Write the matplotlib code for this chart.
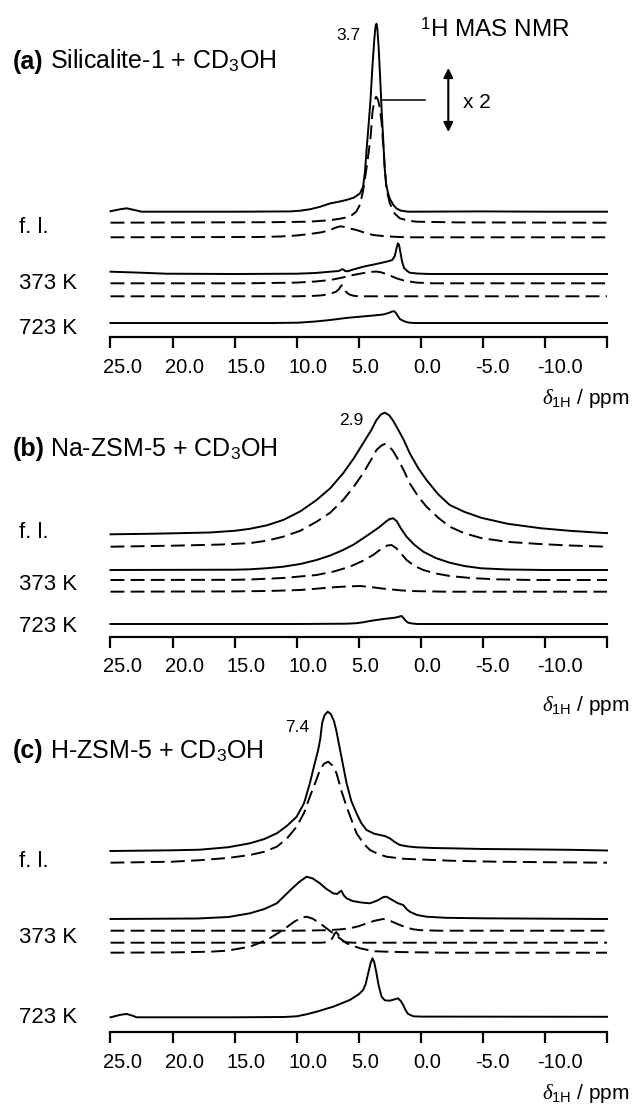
import numpy as np
import matplotlib.pyplot as plt
from matplotlib.transforms import ScaledTranslation

plt.rcParams['font.family'] = ['Liberation Sans', 'DejaVu Sans']
plt.rcParams['mathtext.fontset'] = 'custom'
plt.rcParams['mathtext.rm'] = 'Liberation Sans'
plt.rcParams['mathtext.sf'] = 'Liberation Sans'
plt.rcParams['mathtext.it'] = 'Liberation Serif:italic'
plt.rcParams['mathtext.bf'] = 'Liberation Sans:bold'
plt.rcParams['lines.scale_dashes'] = False

# ---- data: chemical shift (ppm) and intensity (a.u.) ----
# (a) Silicalite-1
a1_ppm = [25.0, 24.2, 23.7, 23.0, 22.5, 15.0, 10.5, 9.7, 8.9, 8.1, 7.3, 6.6, 6.0, 5.4, 4.9, 4.65, 4.5, 4.35,
          4.22, 4.05, 3.9, 3.75, 3.65, 3.57, 3.5, 3.4, 3.28, 3.15, 3.02, 2.92, 2.8, 2.65, 2.5, 2.2, 1.96, 1.6,
          1.0, -5.0, -10.0, -15.0]
a1_int = [0.5, 2.5, 3.4, 1.5, 0.0, 0.0, 0.3, 1.0, 2.5, 5.0, 8.3, 10.0, 11.7, 14.0, 18.3, 25.0, 40.0, 65.0,
          85.0, 112.0, 145.0, 172.0, 185.0, 188.0, 183.0, 165.0, 135.0, 100.0, 70.0, 45.0, 28.0, 19.0, 13.0,
          6.5, 3.3, 1.0, 0.0, 0.3, 0.0, 0.0]
a2_ppm = [25.0, 12.0, 9.0, 7.3, 6.5, 5.72, 5.2, 4.9, 4.64, 4.45, 4.25, 4.05, 3.9, 3.75, 3.6, 3.45, 3.3, 3.16,
          3.03, 2.9, 2.76, 2.5, 2.1, 1.69, 1.0, 0.35, -3.0, -15.0]
a2_int = [0.0, 0.5, 1.0, 2.5, 4.0, 6.0, 11.0, 18.0, 32.7, 48.0, 66.0, 85.0, 110.0, 122.0, 126.0, 123.0, 115.0,
          100.0, 78.0, 55.0, 33.0, 19.4, 9.0, 4.4, 2.0, 1.0, 0.3, 0.0]
a3_ppm = [25.0, 13.0, 11.35, 10.0, 8.94, 8.0, 7.3, 6.9, 6.5, 6.2, 5.8, 5.18, 4.5, 3.84, 3.0, 1.96, 1.0, -15.0]
a3_int = [0.0, 0.3, 0.8, 1.8, 3.3, 5.0, 7.3, 9.5, 11.0, 10.5, 9.0, 7.3, 4.5, 2.3, 1.2, 0.4, 0.0, 0.0]
a4_ppm = [25.0, 23.0, 20.5, 15.0, 10.0, 8.5, 7.3, 6.6, 6.4, 6.25, 6.1, 5.9, 5.5, 4.64, 3.6, 2.76, 2.3, 2.1,
          1.95, 1.85, 1.75, 1.65, 1.5, 1.35, 1.1, 0.89, 0.3, -0.7, -15.0]
a4_int = [2.3, 1.5, 0.3, 0.0, 0.3, 1.0, 2.3, 3.0, 4.5, 4.6, 3.0, 2.7, 4.3, 7.3, 10.0, 12.3, 14.0, 18.0,
          26.0, 30.7, 29.0, 22.0, 12.0, 6.0, 3.0, 1.3, 0.5, 0.0, 0.0]
a5_ppm = [25.0, 14.0, 10.0, 8.5, 7.3, 6.4, 5.45, 4.5, 3.9, 3.57, 3.2, 2.6, 1.96, 1.3, 0.35, -1.0, -15.0]
a5_int = [0.0, 0.0, 0.7, 1.8, 3.3, 5.5, 8.3, 10.5, 11.5, 11.7, 11.0, 8.5, 5.0, 2.5, 0.7, 0.0, 0.0]
a6_ppm = [25.0, 10.0, 8.5, 7.96, 7.3, 6.84, 6.6, 6.45, 6.35, 6.2, 6.05, 5.9, 5.7, 5.4, 5.0, -15.0]
a6_int = [0.0, 0.0, 0.5, 1.0, 2.5, 4.5, 7.0, 10.0, 11.0, 8.5, 5.0, 3.0, 1.5, 0.5, 0.0, 0.0]
a7_ppm = [25.0, 12.0, 9.9, 8.5, 7.3, 6.04, 5.18, 4.0, 3.03, 2.6, 2.3, 2.15, 2.0, 1.85, 1.69, 1.4, 1.1, 0.89,
          0.5, -15.0]
a7_int = [0.0, 0.0, 0.3, 1.5, 3.0, 5.0, 6.0, 7.3, 8.5, 10.0, 11.5, 11.8, 10.0, 7.0, 4.0, 2.0, 0.8, 0.3, 0.0, 0.0]

# (b) Na-ZSM-5
b1_ppm = [25.0, 22.0, 19.9, 17.0, 15.0, 13.77, 12.4, 11.09, 9.7, 8.4, 7.3, 6.26, 5.4, 4.65, 4.0, 3.57, 3.2,
          2.9, 2.55, 2.25, 1.96, 1.4, 0.89, 0.2, -0.46, -1.4, -2.33, -3.5, -4.87, -7.0, -9.7, -12.0, -14.5, -15.0]
b1_int = [0.0, 0.5, 1.0, 1.8, 3.5, 5.5, 9.0, 14.3, 23.0, 34.3, 46.0, 61.0, 76.0, 91.0, 104.0, 114.3, 120.0,
          121.7, 119.0, 114.0, 107.7, 95.0, 81.0, 66.0, 54.3, 40.0, 29.3, 22.5, 16.5, 10.5, 6.0, 3.5, 1.5, 1.2]
b2_ppm = [25.0, 20.0, 16.0, 13.77, 12.4, 11.09, 9.7, 8.4, 7.3, 6.26, 5.4, 4.65, 4.0, 3.57, 3.2, 2.9, 2.6,
          2.25, 1.96, 1.4, 0.89, 0.2, -0.46, -1.4, -2.33, -3.5, -4.88, -7.0, -9.7, -12.0, -15.0]
b2_int = [0.0, 1.0, 2.2, 3.6, 6.0, 10.0, 16.0, 25.0, 34.0, 46.7, 60.0, 73.4, 87.0, 96.7, 101.0, 102.7, 101.0,
          96.0, 90.0, 77.0, 63.4, 50.0, 40.0, 29.0, 20.0, 13.5, 8.6, 4.8, 2.6, 1.2, 0.0]
b3_ppm = [25.0, 15.0, 13.77, 12.4, 11.09, 9.7, 8.4, 7.3, 6.26, 5.4, 4.65, 3.9, 3.3, 2.8, 2.5, 2.23, 1.95,
          1.6, 1.15, 0.5, -0.2, -1.2, -2.33, -3.5, -4.88, -7.0, -10.0, -15.0]
b3_int = [0.0, 0.3, 0.7, 1.8, 3.3, 6.0, 10.0, 14.5, 20.0, 25.5, 31.7, 38.0, 43.3, 48.5, 51.0, 51.7, 49.0,
          41.5, 33.3, 25.0, 18.3, 12.0, 7.3, 4.0, 1.7, 0.5, 0.0, 0.0]
b4_ppm = [25.0, 15.0, 13.77, 11.09, 8.4, 7.0, 5.72, 4.7, 3.84, 3.2, 2.7, 2.36, 2.0, 1.55, 1.15, 0.5, -0.2,
          -1.2, -2.33, -4.0, -6.0, -9.0, -15.0]
b4_int = [0.0, 0.2, 0.5, 2.0, 5.0, 8.5, 13.3, 19.0, 25.0, 31.0, 34.5, 35.0, 32.0, 26.0, 20.0, 14.0, 10.0,
          6.5, 4.0, 2.0, 0.7, 0.0, 0.0]
b5_ppm = [25.0, 15.0, 12.0, 9.74, 8.4, 7.06, 6.0, 4.9, 4.0, 3.2, 2.5, 1.5, 0.5, -0.2, -2.0, -15.0]
b5_int = [0.0, 0.3, 0.8, 1.7, 3.0, 4.4, 5.2, 5.7, 4.6, 3.3, 2.4, 1.2, 0.6, 0.4, 0.0, 0.0]
b6_ppm = [25.0, 10.0, 6.0, 5.2, 4.65, 4.1, 3.57, 3.0, 2.5, 2.0, 1.7, 1.55, 1.4, 1.2, 1.02, 0.7, 0.3, -15.0]
b6_int = [0.0, 0.0, 0.3, 0.8, 1.7, 3.0, 4.0, 5.0, 5.7, 6.5, 7.5, 8.0, 6.0, 3.0, 1.3, 0.5, 0.0, 0.0]

# (c) H-ZSM-5
c1_ppm = [25.0, 20.0, 17.8, 15.5, 13.77, 12.6, 11.6, 10.8, 10.0, 9.4, 8.94, 8.6, 8.27, 8.1, 7.95, 7.75, 7.5,
          7.25, 7.0, 6.8, 6.66, 6.3, 5.98, 5.6, 5.18, 4.8, 4.37, 3.8, 3.3, 2.9, 2.5, 2.1, 1.69, 1.0, 0.35,
          -1.0, -2.33, -5.0, -8.0, -12.0, -15.0]
c1_int = [0.0, 0.7, 1.3, 3.8, 7.7, 12.0, 17.7, 25.0, 34.3, 48.0, 67.7, 85.0, 101.0, 112.0, 128.0, 136.0,
          139.3, 137.0, 130.0, 120.0, 111.0, 88.0, 67.7, 50.0, 37.7, 28.0, 21.0, 17.5, 16.0, 15.0, 12.7, 9.0,
          6.0, 4.5, 3.7, 3.0, 2.7, 2.0, 1.7, 1.2, 0.5]
c2_ppm = [25.0, 20.0, 17.8, 15.5, 13.77, 12.6, 11.6, 10.8, 10.0, 9.4, 8.94, 8.5, 8.13, 7.8, 7.46, 7.1, 6.79,
          6.4, 5.98, 5.5, 5.18, 4.6, 4.1, 3.4, 2.76, 1.5, 0.35, -2.33, -6.0, -10.0, -15.0]
c2_int = [0.0, 1.0, 2.5, 4.8, 7.7, 11.0, 16.0, 24.0, 36.0, 50.0, 66.0, 80.0, 92.7, 99.0, 101.0, 97.0, 89.4,
          72.0, 56.0, 40.0, 29.4, 19.0, 12.7, 8.5, 6.0, 4.0, 3.4, 2.0, 1.0, 0.5, 0.0]
c3_ppm = [25.0, 18.0, 15.5, 13.77, 12.6, 11.6, 10.5, 9.8, 9.2, 8.7, 8.13, 7.6, 7.06, 6.75, 6.55, 6.4, 6.2,
          5.98, 5.5, 4.8, 4.1, 3.5, 3.0, 2.76, 2.3, 1.83, 1.42, 1.15, 0.89, 0.3, -0.46, -2.0, -5.0, -15.0]
c3_int = [0.0, 0.5, 2.0, 5.7, 10.0, 15.7, 29.0, 37.0, 42.3, 40.5, 35.7, 30.0, 25.7, 25.0, 27.0, 28.3, 23.5,
          20.7, 18.0, 16.5, 15.7, 18.5, 22.0, 22.3, 19.0, 15.7, 14.0, 10.0, 7.3, 4.0, 2.3, 1.2, 0.7, 0.0]
c4_ppm = [25.0, 10.0, 7.5, 6.5, 5.72, 5.0, 4.37, 3.7, 3.03, 2.4, 1.69, 1.1, 0.62, 0.0, -1.5, -15.0]
c4_int = [0.0, 0.0, 0.5, 1.3, 2.4, 4.5, 7.4, 10.0, 11.7, 9.5, 5.7, 3.0, 1.4, 0.5, 0.0, 0.0]
c5_ppm = [25.0, 8.0, 7.6, 7.3, 7.1, 6.95, 6.8, 6.65, 6.5, 6.3, 6.0, 5.5, -15.0]
c5_int = [0.0, 0.0, 0.5, 2.0, 5.0, 9.0, 10.5, 8.0, 4.0, 1.5, 0.5, 0.0, 0.0]
c6_ppm = [25.0, 20.0, 17.0, 15.6, 13.77, 12.4, 11.1, 10.2, 9.6, 9.2, 8.7, 8.13, 7.06, 5.98, 4.9, 3.8, 2.8,
          1.0, -2.0, -15.0]
c6_int = [0.0, 0.3, 1.0, 2.0, 6.0, 12.7, 22.7, 31.0, 35.0, 36.0, 34.0, 29.4, 19.4, 9.4, 4.4, 1.5, 1.0, 0.5,
          0.0, 0.0]
c7_ppm = [25.0, 24.2, 23.7, 23.2, 22.9, 15.0, 11.0, 10.0, 9.2, 8.4, 7.06, 5.72, 5.0, 4.65, 4.45, 4.24, 4.05,
          3.89, 3.75, 3.57, 3.4, 3.16, 2.9, 2.5, 2.1, 1.83, 1.6, 1.42, 1.2, 1.02, 0.6, 0.0, -15.0]
c7_int = [0.0, 2.5, 3.3, 1.5, 0.0, 0.0, 0.3, 1.0, 3.0, 5.6, 10.6, 17.3, 23.0, 27.3, 33.0, 44.0, 54.0, 59.0,
          55.0, 44.0, 32.0, 20.6, 17.0, 16.6, 18.0, 19.0, 16.0, 12.3, 6.5, 3.3, 1.0, 0.7, 0.5]

tick_vals = [25, 20, 15, 10, 5, 0, -5, -10, -15]
tick_text = ['25.0', '20.0', '15.0', '10.0', '5.0', '0.0', '-5.0', '-10.0', '']
row_labels = ['f. l.', '373 K', '723 K']
titles = ['(a)', '(b)', '(c)']
samples = ['Silicalite-1 + CD$_3$OH', 'Na-ZSM-5 + CD$_3$OH', 'H-ZSM-5 + CD$_3$OH']
peak_labels = ['3.7', '2.9', '7.4']

# ---- layout (figure pixels, y from top) ----
W, H = 632, 1105
fig = plt.figure(figsize=(W / 100, H / 100), dpi=100)

panels = [
    dict(box=(0, 337.0),
         traces=[(a1_ppm, a1_int), (a2_ppm, a2_int), (a3_ppm, a3_int), (a4_ppm, a4_int),
                 (a5_ppm, a5_int), (a6_ppm, a6_int), (a7_ppm, a7_int)],
         offsets=[125.3, 114.3, 99.7, 63.0, 53.7, 40.7, 14.0],
         styles=['-', '--', '--', '-', '--', '--', '-'],
         title_y=68.5, row_y=[233.0, 289.3, 334.0], peak_xy=(348, 40), xlab_y=404.5),
    dict(box=(385, 636.5),
         traces=[(b1_ppm, b1_int), (b2_ppm, b2_int), (b3_ppm, b3_int), (b4_ppm, b4_int),
                 (b5_ppm, b5_int), (b6_ppm, b6_int)],
         offsets=[102.2, 89.8, 66.5, 56.5, 44.8, 12.5],
         styles=['-', '--', '-', '--', '--', '-'],
         title_y=456.0, row_y=[538.3, 590.0, 631.7], peak_xy=(351, 425), xlab_y=711.0),
    dict(box=(700, 1031.7),
         traces=[(c1_ppm, c1_int), (c2_ppm, c2_int), (c3_ppm, c3_int), (c4_ppm, c4_int),
                 (c5_ppm, c5_int), (c6_ppm, c6_int), (c7_ppm, c7_int)],
         offsets=[180.7, 169.0, 112.7, 101.0, 89.0, 79.0, 14.4],
         styles=['-', '--', '-', '--', '--', '--', '-'],
         title_y=758.3, row_y=[866.7, 943.3, 1023.3], peak_xy=(297, 731.7), xlab_y=1099.0),
]

x0, x1 = 110.5, 607.0
label_shift = ScaledTranslation(-0.077, 0, fig.dpi_scale_trans)

for i, p in enumerate(panels):
    top, bottom = p['box']
    ax = fig.add_axes([x0 / W, 1 - bottom / H, (x1 - x0) / W, (bottom - top) / H])
    ax.patch.set_alpha(0)
    for (ppm, inten), off, st in zip(p['traces'], p['offsets'], p['styles']):
        y = off + np.array(inten)
        if st == '-':
            ax.plot(ppm, y, color='black', lw=1.4, clip_on=False)
        else:
            ax.plot(ppm, y, color='black', lw=1.4, dashes=(10, 4.5), clip_on=False)
    ax.set_xlim(25, -15)
    ax.set_ylim(0, bottom - top)
    for s in ['left', 'right', 'top']:
        ax.spines[s].set_visible(False)
    ax.spines['bottom'].set_linewidth(1.6)
    ax.set_yticks([])
    ax.set_xticks(tick_vals)
    ax.set_xticklabels(tick_text)
    ax.tick_params(axis='x', direction='out', length=8, width=1.6, pad=7, labelsize=14.5)
    for lab in ax.get_xticklabels():
        lab.set_horizontalalignment('left')
        lab.set_transform(lab.get_transform() + label_shift)

    fig.text(13 / W, 1 - p['title_y'] / H, titles[i], fontsize=18, fontweight='bold', va='baseline')
    fig.text(50 / W, 1 - p['title_y'] / H, samples[i], fontsize=18, va='baseline')
    for lab, yy in zip(row_labels, p['row_y']):
        fig.text(19 / W, 1 - yy / H, lab, fontsize=16, va='baseline')
    px, py = p['peak_xy']
    fig.text(px / W, 1 - py / H, peak_labels[i], fontsize=12.5, ha='center', va='baseline')
    fig.text(630 / W, 1 - p['xlab_y'] / H, r'$\delta_{\mathrm{1H}}$ / ppm', fontsize=15,
             ha='right', va='baseline')

fig.text(420 / W, 1 - 36.7 / H, r'$^{\mathrm{1}}$H MAS NMR', fontsize=17.5, va='baseline')
fig.text(463.3 / W, 1 - 108.3 / H, 'x 2', fontsize=15, va='baseline')
fig.add_artist(plt.Line2D([383.3 / W, 425 / W], [1 - 100 / H, 1 - 100 / H], color='black', lw=1.1))
ax0 = fig.axes[0]
ax0.annotate('', xy=(448.3, H - 68), xytext=(448.3, H - 132), xycoords='figure pixels',
             textcoords='figure pixels',
             arrowprops=dict(arrowstyle='<|-|>', color='black', lw=1.5, mutation_scale=14,
                             shrinkA=0, shrinkB=0))

fig.savefig('out.png', dpi=100)
